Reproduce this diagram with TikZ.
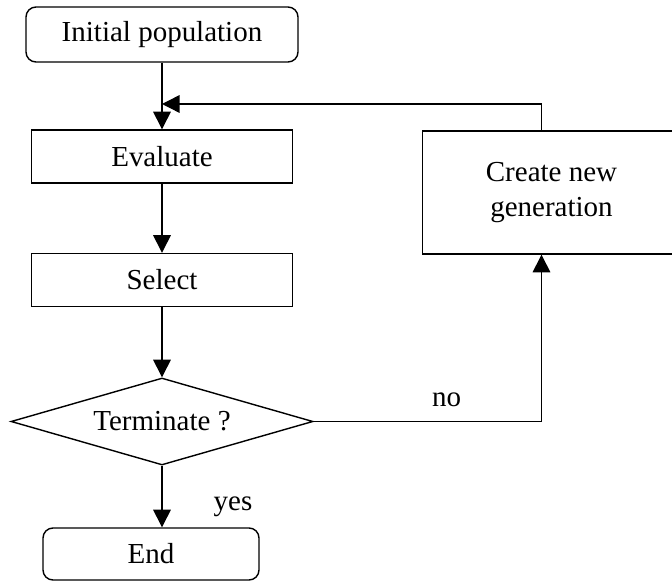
\documentclass[tikz,border=0pt]{standalone}
\usepackage{fontspec}
\setmainfont{Liberation Serif}
\usetikzlibrary{shapes.geometric, arrows.meta}
\tikzstyle{startstop} = [rectangle, rounded corners=0.2cm, text centered, draw=black, line width=0.8pt, font=\fontsize{16.5}{19.5}\selectfont]
\tikzstyle{process} = [rectangle, text centered, draw=black, line width=0.8pt, minimum width=5.22cm, minimum height=1.06cm, font=\fontsize{16.5}{19.5}\selectfont]
\tikzstyle{decision} = [diamond, aspect=3.47, text centered, draw=black, line width=0.8pt, inner sep=0pt, minimum width=6.04cm, minimum height=1.74cm, font=\fontsize{16.5}{19.5}\selectfont]
\tikzstyle{tag} = [font=\fontsize{16.5}{19.5}\selectfont]
\tikzstyle{arrow} = [line width=0.8pt,->,>={Triangle[length=10pt,width=10pt]}]

\begin{document}
\begin{tikzpicture}[node distance=1cm]

\clip (0,0) rectangle (13.44,-11.64);
\fill [white] (0,0) rectangle (13.44,-11.64);

\node (init) [startstop, minimum width=5.44cm, minimum height=1.10cm] at (3.24,-0.69) {Initial population};
\node (eval) [process, below of=init, yshift=-1.44cm] {Evaluate};
\node (select) [process, below of=eval, yshift=-1.47cm] {Select};
\node (term) [decision, below of=select, yshift=-1.83cm] {Terminate ?};
\node (end) [startstop, minimum width=4.32cm, minimum height=1.04cm, below of=term, yshift=-1.65cm, xshift=-0.22cm] {End};
\node (create) [process, align=center, minimum width=5.16cm, minimum height=2.46cm, right of=eval, xshift=6.79cm, yshift=-0.72cm] {Create new\\generation};
\coordinate [below of=init, yshift=-0.39cm] (join);

\node (yes) [tag] at ([xshift=1.42cm,yshift=-0.82cm]term.south) {yes};
\node (no) [tag] at ([xshift=2.66cm,yshift=0.44cm]term.east) {no};

\draw [arrow] (init) -- (eval);
\draw [arrow] (eval) -- (select);
\draw [arrow] (select) -- (term);
\draw [arrow] (term.south) -- (term.south |- end.north);
\draw [arrow] (term.east) -| ([xshift=-0.2cm]create.south);
\draw [arrow] ([xshift=-0.2cm]create.north) |- (join);

\end{tikzpicture}
\end{document}
